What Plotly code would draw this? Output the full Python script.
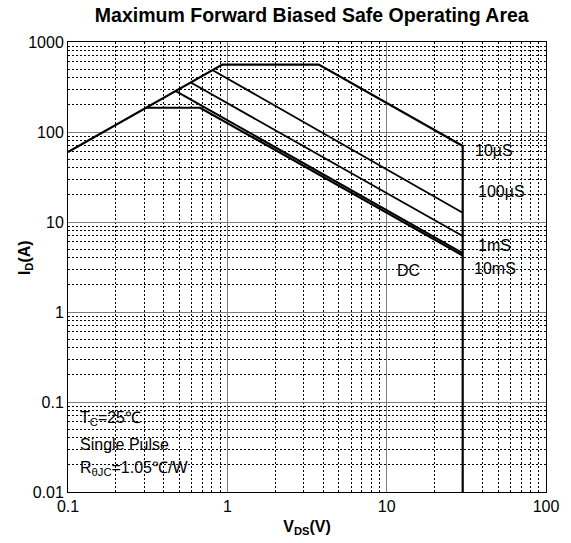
import numpy as np
import plotly.graph_objects as go

# Safe operating area boundaries (V_DS in volts, I_D in amps)
v_10us = [0.1, 0.93, 3.75, 30, 30]
i_10us = [60, 560, 560, 70, 0.01]
v_100us = [0.81, 30]
i_100us = [486, 12.7]
v_1ms = [0.59, 30]
i_1ms = [354, 7.0]
v_10ms = [0.475, 30]
i_10ms = [285, 4.5]
v_dc = [0.31, 0.674, 30]
i_dc = [186, 186, 4.25]

x_ticks = [0.1, 1, 10, 100]
x_ticktext = ["0.1", "1", "10", "100"]
y_ticks = [0.01, 0.1, 1, 10, 100, 1000]
y_ticktext = ["0.01", "0.1", "1", "10", "100", "1000"]

# curve labels: (text, V, I, anchor)
curve_labels = [
    ("10µS", 34.9, 62, "left"),
    ("100µS", 36.4, 22.1, "left"),
    ("1mS", 36.5, 5.55, "left"),
    ("10mS", 34.4, 3.06, "left"),
    ("DC", 13.8, 2.88, "center"),
]
cond_labels = [
    ("T<sub>C</sub>=25℃", 0.116, 0.066),
    ("Single Pulse", 0.116, 0.0339),
    ("R<sub>θJC</sub>=1.05℃/W", 0.116, 0.0183),
]

FONT = "Liberation Sans, Arial, sans-serif"

fig = go.Figure()
for xs, ys, w in [
    (v_10us, i_10us, 2.2),
    (v_100us, i_100us, 1.8),
    (v_1ms, i_1ms, 1.8),
    (v_10ms, i_10ms, 2.0),
    (v_dc, i_dc, 2.2),
]:
    fig.add_trace(go.Scatter(x=xs, y=ys, mode="lines",
                             line=dict(color="black", width=w),
                             showlegend=False, hoverinfo="skip"))

for text, vx, iy, anchor in curve_labels:
    fig.add_annotation(x=np.log10(vx), y=np.log10(iy), text=text,
                       showarrow=False, xanchor=anchor, yanchor="middle",
                       font=dict(family=FONT, size=16, color="black"))
for text, vx, iy in cond_labels:
    fig.add_annotation(x=np.log10(vx), y=np.log10(iy), text=text,
                       showarrow=False, xanchor="left", yanchor="middle",
                       font=dict(family=FONT, size=16, color="black"))

# y-axis title placed close to the tick labels
fig.add_annotation(x=-0.09, y=0.522, xref="paper", yref="paper",
                   text="<b>I<sub>D</sub>(A)</b>", textangle=-90,
                   showarrow=False, xanchor="center", yanchor="middle",
                   font=dict(family=FONT, size=16, color="black"))

def minor_vals(lo, hi):
    vals = []
    for d in range(lo, hi):
        for k in range(2, 10):
            vals.append(k * 10 ** d)
    return vals

axis_common = dict(
    type="log",
    showline=True, linecolor="black", linewidth=1, mirror=True,
    ticks="", showgrid=True, gridcolor="#7f7f7f", gridwidth=1,
    zeroline=False,
    tickfont=dict(family=FONT, size=16, color="black"),
)

fig.update_xaxes(
    range=[-1, 2], tickvals=x_ticks, ticktext=x_ticktext,
    minor=dict(tickvals=minor_vals(-1, 2), showgrid=True,
               gridcolor="black", gridwidth=1, griddash="2px,2px", ticks=""),
    title=dict(text="<b>V<sub>DS</sub>(V)</b>", standoff=6,
               font=dict(family=FONT, size=16, color="black")),
    **axis_common,
)
fig.update_yaxes(
    range=[-2, 3], tickvals=y_ticks, ticktext=y_ticktext,
    minor=dict(tickvals=minor_vals(-2, 3), showgrid=True,
               gridcolor="black", gridwidth=1, griddash="2px,2px", ticks=""),
    **axis_common,
)

fig.update_layout(
    width=571, height=543,
    margin=dict(l=68, r=25, t=41.5, b=51, pad=0),
    plot_bgcolor="white", paper_bgcolor="white",
    title=dict(text="<b>Maximum Forward Biased Safe Operating Area</b>",
               x=0.51, xref="paper", xanchor="center",
               y=1 - 15 / 543, yref="container", yanchor="middle",
               font=dict(family=FONT, size=19.5, color="black")),
)

fig.write_html("out.html")
